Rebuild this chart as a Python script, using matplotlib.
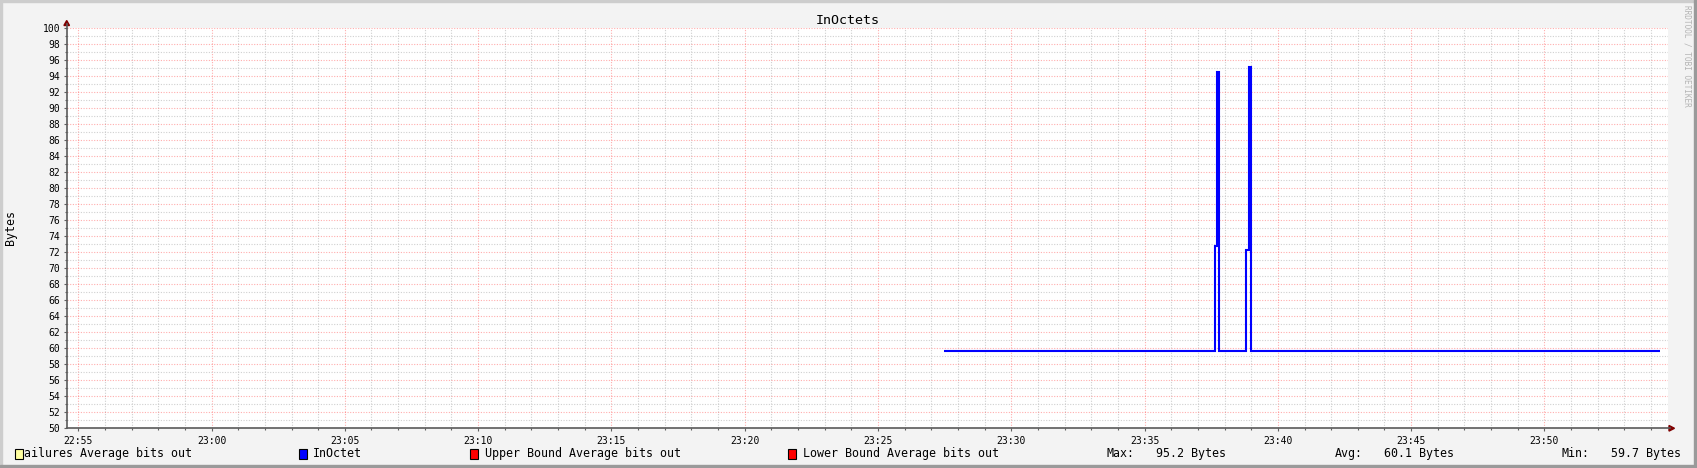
import matplotlib
matplotlib.use("Agg")
import matplotlib.pyplot as plt
from matplotlib.ticker import MultipleLocator, FuncFormatter
from matplotlib.patches import Rectangle, Polygon
from matplotlib.lines import Line2D

# data (step points, value holds until next time)
times = ["23:27:28", "23:37:39", "23:37:44", "23:37:48",
         "23:38:49", "23:38:54", "23:38:59", "23:54:21"]
values = [59.7, 72.8, 94.6, 59.7, 72.3, 95.2, 59.7, 59.7]

x_start = "22:54:34"
x_end = "23:54:37"
y_min, y_max = 50, 100

title = "InOctets"
y_label = "Bytes"
legend_items = [("ailures Average bits out", "#FFFFA0"),
                ("InOctet", "#0000FF"),
                ("Upper Bound Average bits out", "#FF0000"),
                ("Lower Bound Average bits out", "#FF0000")]
stat_labels = ["Max:", "Avg:", "Min:"]
stat_values = ["95.2 Bytes", "60.1 Bytes", "59.7 Bytes"]


def to_sec(s):
    h, m, sec = (int(v) for v in s.split(":"))
    return h * 3600 + m * 60 + sec


W, H = 1697, 468
MONO = "DejaVu Sans Mono"
plt.rcParams["font.family"] = MONO

fig = plt.figure(figsize=(W / 100, H / 100), dpi=100)
fig.patch.set_facecolor("#F3F3F3")


def px(x, y):
    return (x / W, 1 - y / H)


# plot area in pixels
L, R, T, B = 66.7, 1667.5, 28.3, 428.3
ax = fig.add_axes([L / W, 1 - B / H, (R - L) / W, (B - T) / H])
ax.set_facecolor("white")

xs = [to_sec(t) for t in times]
ax.plot(xs, values, color="#0000FF", lw=1.5, drawstyle="steps-post",
        solid_joinstyle="miter", solid_capstyle="butt", zorder=5)

ax.set_xlim(to_sec(x_start), to_sec(x_end))
ax.set_ylim(y_min, y_max)

ax.xaxis.set_major_locator(MultipleLocator(300))
ax.xaxis.set_minor_locator(MultipleLocator(60))
ax.yaxis.set_major_locator(MultipleLocator(2))
ax.yaxis.set_minor_locator(MultipleLocator(1))
ax.xaxis.set_major_formatter(FuncFormatter(
    lambda v, p: "%02d:%02d" % (int(v) // 3600, (int(v) % 3600) // 60)))
ax.yaxis.set_major_formatter(FuncFormatter(lambda v, p: "%d" % v))

dot = (0, (1, 1.4))
ax.grid(True, which="minor", color="#C4C4C4", lw=0.8, ls=dot, alpha=0.8)
ax.grid(True, which="major", color="#FF0000", lw=0.8, ls=dot, alpha=0.32)
ax.set_axisbelow(True)

for s in ax.spines.values():
    s.set_visible(False)

ax.tick_params(which="major", length=2.4, width=0.8, color="#606060",
               labelsize=7, pad=2.2)
ax.tick_params(which="minor", length=1.5, width=0.8, color="#606060")
ax.tick_params(axis="x", which="major", pad=3)

# axis lines and arrows
axis_col = "#5A5A5A"
arrow_col = "#800000"
fig.add_artist(Line2D([px(L, 0)[0], px(L, 0)[0]], [px(0, B)[1], px(0, 24)[1]],
                      color=axis_col, lw=1.2, transform=fig.transFigure))
fig.add_artist(Line2D([px(L, 0)[0], px(1670, 0)[0]], [px(0, B)[1], px(0, B)[1]],
                      color=axis_col, lw=1.2, transform=fig.transFigure))
fig.add_artist(Polygon([px(L - 2.8, 25.5), px(L + 2.8, 25.5), px(L, 20.5)],
                       closed=True, color=arrow_col, transform=fig.transFigure))
fig.add_artist(Polygon([px(1669, B - 2.8), px(1669, B + 2.8), px(1674.5, B)],
                       closed=True, color=arrow_col, transform=fig.transFigure))

# title, label, watermark
fig.text(*px(848, 24), title, ha="center", va="baseline", fontsize=9.6,
         color="black")
fig.text(*px(10.5, 227.5), y_label, ha="center", va="center", rotation=90,
         fontsize=8.4)
fig.text(*px(1687.5, 5), "RRDTOOL / TOBI OETIKER", ha="center", va="top",
         rotation=270, fontsize=5.6, color="#B4B4B4")

# legend
box_x = [15.3, 298.5, 469.9, 787.9]
text_x = [24.0, 313.3, 485.2, 802.8]
for (lab, col), bx, tx in zip(legend_items, box_x, text_x):
    fig.add_artist(Rectangle(px(bx, 459), 8 / W, 10 / H, facecolor=col,
                             edgecolor="black", lw=0.8,
                             transform=fig.transFigure))
    fig.text(*px(tx, 457.3), lab, ha="left", va="baseline", fontsize=8.4)

# gprint stats
for lab, val, lx, vx in zip(stat_labels, stat_values,
                            [1106.5, 1334.7, 1561.7], [1156.0, 1384.2, 1611.2]):
    fig.text(*px(lx, 457.3), lab, ha="left", va="baseline", fontsize=8.4)
    fig.text(*px(vx, 457.3), val, ha="left", va="baseline", fontsize=8.4)

# 3d frame
fig.add_artist(Rectangle((0, 1 - 2 / H), 1, 2 / H, color="#CDCDCD",
                         transform=fig.transFigure))
fig.add_artist(Rectangle((0, 0), 2 / W, 1, color="#CDCDCD",
                         transform=fig.transFigure))
fig.add_artist(Rectangle((0, 0), 1, 2.7 / H, color="#9A9A9A",
                         transform=fig.transFigure))
fig.add_artist(Rectangle((1 - 2.7 / W, 0), 2.7 / W, 1, color="#9A9A9A",
                         transform=fig.transFigure))

fig.savefig("out.png", dpi=100, facecolor=fig.get_facecolor())
